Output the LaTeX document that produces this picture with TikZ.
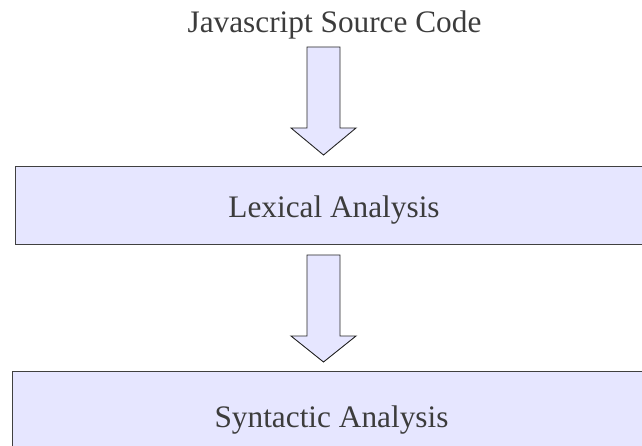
\documentclass[tikz,border=0pt]{standalone}
\usepackage{fontspec}
\setmainfont{Liberation Serif}
\begin{document}
\begin{tikzpicture}[x=1pt,y=-1pt,
  stagebox/.style={draw=black!75, line width=1.4pt, fill=stagefill, inner sep=0pt, anchor=north west},
  label/.style={text=labelgray, font=\fontsize{31.3}{36}\selectfont, inner sep=0pt, anchor=base},
  blockarrow/.style={draw=black!85, line width=0.9pt, fill=stagefill, line join=miter}]
\definecolor{stagefill}{HTML}{E6E6FF}
\definecolor{labelgray}{HTML}{3C3C3C}
\useasboundingbox (0,0) rectangle (642,446);
\clip (0,0) rectangle (642,446);

% source label
\node[label] (src) at (334.5,33) {Javascript Source Code};

% stage boxes (running past the right edge)
\node[stagebox, minimum width=660pt, minimum height=78pt] (lex) at (14.5,166) {};
\node[label] (lextext) at (334,218) {Lexical Analysis};
\node[stagebox, minimum width=660pt, minimum height=100pt] (syn) at (11.5,371) {};
\node[label] (syntext) at (331.5,427) {Syntactic Analysis};

% block arrows between stages
\draw[blockarrow] (307,47) -- (340,47) -- (340,128) -- (356,128) -- (323.5,155)
  -- (291,128) -- (307,128) -- cycle;
\draw[blockarrow] (307,255) -- (340,255) -- (340,336) -- (356,336) -- (323.5,362)
  -- (291,336) -- (307,336) -- cycle;
\end{tikzpicture}
\end{document}
